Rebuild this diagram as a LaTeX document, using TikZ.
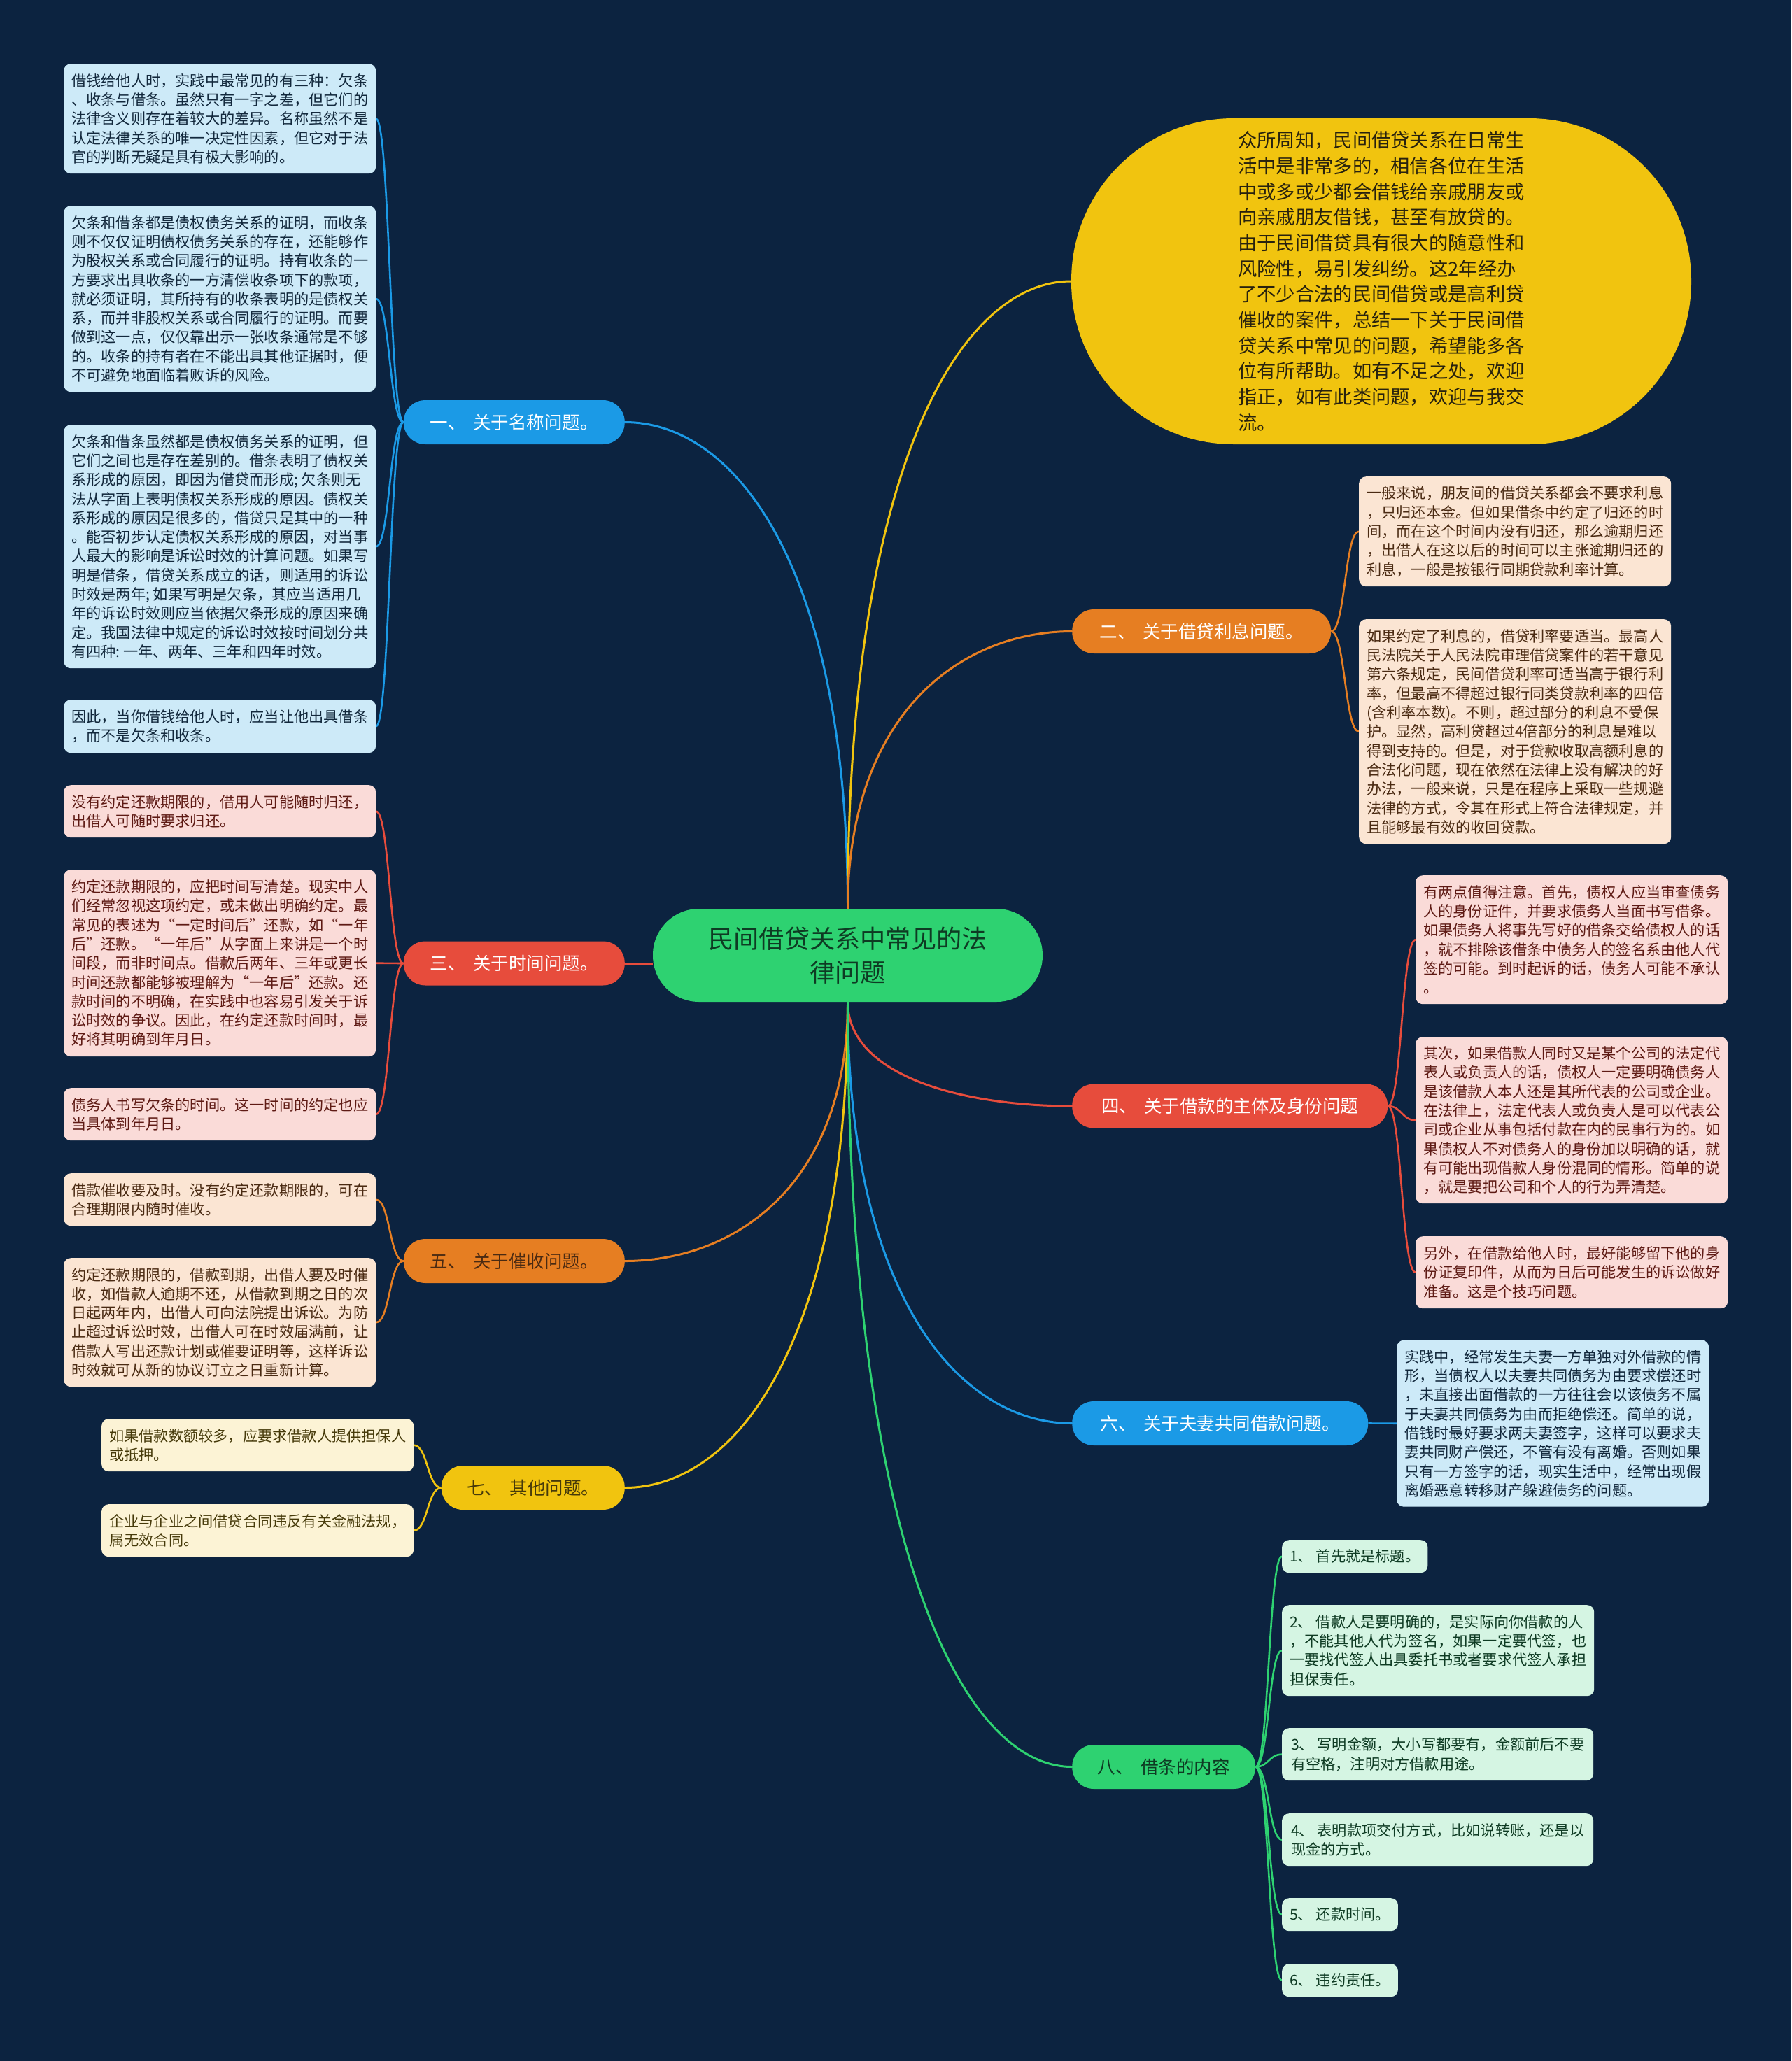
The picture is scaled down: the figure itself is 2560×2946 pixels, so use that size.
\documentclass[tikz,border=0pt]{standalone}
\usepackage{fontspec}
\setmainfont{Noto Sans CJK SC}
\usetikzlibrary{calc}
\definecolor{bgc}{RGB}{12,35,64}
\definecolor{cblue}{RGB}{27,154,230}
\definecolor{corange}{RGB}{230,126,34}
\definecolor{cred}{RGB}{231,76,60}
\definecolor{cyellow}{RGB}{241,196,15}
\definecolor{cgreen}{RGB}{46,210,113}
\definecolor{lblue}{RGB}{205,234,248}
\definecolor{lpink}{RGB}{250,219,216}
\definecolor{lorange}{RGB}{251,229,211}
\definecolor{lyellow}{RGB}{252,243,213}
\definecolor{lgreen}{RGB}{213,245,227}
\definecolor{tblue}{RGB}{18,40,60}
\definecolor{tpink}{RGB}{94,26,20}
\definecolor{torange}{RGB}{74,42,18}
\definecolor{tyellow}{RGB}{70,58,10}
\definecolor{tgreen}{RGB}{14,59,35}
\definecolor{tdark}{RGB}{40,34,14}
\pgfdeclarelayer{links}
\pgfsetlayers{links,main}
\newcommand\rootlink[3]{\draw[#1] let \p1=(#2), \p2=(#3) in (\p1) .. controls (\x1,{\y1+0.7*(\y2-\y1)}) and ({0.5*(\x1+\x2)},\y2) .. (\p2);}
\newcommand\kidlink[3]{\draw[#1] let \p1=(#2), \p2=(#3) in (\p1) .. controls ({0.5*(\x1+\x2)},\y1) and ({0.5*(\x1+\x2)},\y2) .. (\p2);}
\tikzset{
  box/.style={rounded corners=10pt, inner xsep=11pt, inner ysep=6pt, align=left, anchor=north west, font=\fontsize{21.2}{27.3}\selectfont},
  bluebox/.style={box, fill=lblue, text=tblue},
  pinkbox/.style={box, fill=lpink, text=tpink},
  orbox/.style={box, fill=lorange, text=torange},
  yelbox/.style={box, fill=lyellow, text=tyellow},
  grbox/.style={box, fill=lgreen, text=tgreen},
  branch/.style={rounded corners=31pt, minimum height=63pt, inner xsep=20pt, inner ysep=4pt, font=\fontsize{25.5}{30}\selectfont},
  rootline/.style={line width=3pt},
  kidline/.style={line width=2.6pt},
}
\begin{document}
\begin{tikzpicture}[x=1pt,y=-1pt]
\useasboundingbox (0,0) rectangle (2560,2946);
\begin{pgfonlayer}{links}
\fill[bgc] (0,0) rectangle (2560,2946);
\end{pgfonlayer}

% center
\node[fill=cgreen, text=tgreen, rounded corners=66pt, minimum width=557pt, minimum height=133pt, align=center, font=\fontsize{36.2}{48}\selectfont] (c) at (1211.5,1365.5) {民间借贷关系中常见的法\\律问题};

% intro ellipse
\node[fill=cyellow, text=tdark, rounded corners=232pt, minimum width=886pt, minimum height=466pt, align=left, font=\fontsize{27.3}{36.7}\selectfont] (e) at (1974,402) {众所周知，民间借贷关系在日常生\\活中是非常多的，相信各位在生活\\中或多或少都会借钱给亲戚朋友或\\向亲戚朋友借钱，甚至有放贷的。\\由于民间借贷具有很大的随意性和\\风险性，易引发纠纷。这2年经办\\了不少合法的民间借贷或是高利贷\\催收的案件，总结一下关于民间借\\贷关系中常见的问题，希望能多各\\位有所帮助。如有不足之处，欢迎\\指正，如有此类问题，欢迎与我交\\流。};

% branches
\node[branch, fill=cblue, text=white, anchor=east, minimum width=316pt] (b1) at (893,603.5) {一、\hspace{0.4em}关于名称问题。};
\node[branch, fill=corange, text=white, anchor=west, minimum width=370pt] (b2) at (1532,902.5) {二、\hspace{0.4em}关于借贷利息问题。};
\node[branch, fill=cred, text=white, anchor=east, minimum width=316pt] (b3) at (893,1377) {三、\hspace{0.4em}关于时间问题。};
\node[branch, fill=cred, text=white, anchor=west, minimum width=451pt] (b4) at (1532,1581) {四、\hspace{0.4em}关于借款的主体及身份问题};
\node[branch, fill=corange, text=torange, anchor=east, minimum width=316pt] (b5) at (893,1802.5) {五、\hspace{0.4em}关于催收问题。};
\node[branch, fill=cblue, text=white, anchor=west, minimum width=423pt] (b6) at (1532,2034.5) {六、\hspace{0.4em}关于夫妻共同借款问题。};
\node[branch, fill=cyellow, text=tyellow, anchor=east, minimum width=262pt] (b7) at (893,2126.5) {七、\hspace{0.4em}其他问题。};
\node[branch, fill=cgreen, text=tgreen, anchor=west, minimum width=262pt] (b8) at (1532,2525.5) {八、\hspace{0.4em}借条的内容};

% group 1
\node[bluebox, minimum width=446pt, minimum height=157pt] (k11) at (91,91) {借钱给他人时，实践中最常见的有三种：欠条\\、收条与借条。虽然只有一字之差，但它们的\\法律含义则存在着较大的差异。名称虽然不是\\认定法律关系的唯一决定性因素，但它对于法\\官的判断无疑是具有极大影响的。};
\node[bluebox, minimum width=446pt, minimum height=266pt] (k12) at (91,294) {欠条和借条都是债权债务关系的证明，而收条\\则不仅仅证明债权债务关系的存在，还能够作\\为股权关系或合同履行的证明。持有收条的一\\方要求出具收条的一方清偿收条项下的款项，\\就必须证明，其所持有的收条表明的是债权关\\系，而并非股权关系或合同履行的证明。而要\\做到这一点，仅仅靠出示一张收条通常是不够\\的。收条的持有者在不能出具其他证据时，便\\不可避免地面临着败诉的风险。};
\node[bluebox, minimum width=446pt, minimum height=348pt] (k13) at (91,607) {欠条和借条虽然都是债权债务关系的证明，但\\它们之间也是存在差别的。借条表明了债权关\\系形成的原因，即因为借贷而形成;~欠条则无\\法从字面上表明债权关系形成的原因。债权关\\系形成的原因是很多的，借贷只是其中的一种\\。能否初步认定债权关系形成的原因，对当事\\人最大的影响是诉讼时效的计算问题。如果写\\明是借条，借贷关系成立的话，则适用的诉讼\\时效是两年;~如果写明是欠条，其应当适用几\\年的诉讼时效则应当依据欠条形成的原因来确\\定。我国法律中规定的诉讼时效按时间划分共\\有四种:~一年、两年、三年和四年时效。};
\node[bluebox, minimum width=446pt, minimum height=76pt] (k14) at (91,1000) {因此，当你借钱给他人时，应当让他出具借条\\，而不是欠条和收条。};

% group 3
\node[pinkbox, minimum width=446pt, minimum height=75pt] (k31) at (91,1122) {没有约定还款期限的，借用人可能随时归还，\\出借人可随时要求归还。};
\node[pinkbox, minimum width=446pt, minimum height=267pt] (k32) at (91,1243) {约定还款期限的，应把时间写清楚。现实中人\\们经常忽视这项约定，或未做出明确约定。最\\常见的表述为“一定时间后”还款，如“一年\\后”还款。“一年后”从字面上来讲是一个时\\间段，而非时间点。借款后两年、三年或更长\\时间还款都能够被理解为“一年后”还款。还\\款时间的不明确，在实践中也容易引发关于诉\\讼时效的争议。因此，在约定还款时间时，最\\好将其明确到年月日。};
\node[pinkbox, minimum width=446pt, minimum height=75pt] (k33) at (91,1555) {债务人书写欠条的时间。这一时间的约定也应\\当具体到年月日。};

% group 5
\node[orbox, minimum width=446pt, minimum height=75pt] (k51) at (91,1677) {借款催收要及时。没有约定还款期限的，可在\\合理期限内随时催收。};
\node[orbox, minimum width=446pt, minimum height=184pt] (k52) at (91,1798) {约定还款期限的，借款到期，出借人要及时催\\收，如借款人逾期不还，从借款到期之日的次\\日起两年内，出借人可向法院提出诉讼。为防\\止超过诉讼时效，出借人可在时效届满前，让\\借款人写出还款计划或催要证明等，这样诉讼\\时效就可从新的协议订立之日重新计算。};

% group 7
\node[yelbox, minimum width=446pt, minimum height=75pt] (k71) at (145,2028) {如果借款数额较多，应要求借款人提供担保人\\或抵押。};
\node[yelbox, minimum width=446pt, minimum height=75pt] (k72) at (145,2150) {企业与企业之间借贷合同违反有关金融法规，\\属无效合同。};

% group 2
\node[orbox, minimum width=445pt, minimum height=157pt] (k21) at (1942,681) {一般来说，朋友间的借贷关系都会不要求利息\\，只归还本金。但如果借条中约定了归还的时\\间，而在这个时间内没有归还，那么逾期归还\\，出借人在这以后的时间可以主张逾期归还的\\利息，一般是按银行同期贷款利率计算。};
\node[orbox, minimum width=445pt, minimum height=321pt] (k22) at (1942,885) {如果约定了利息的，借贷利率要适当。最高人\\民法院关于人民法院审理借贷案件的若干意见\\第六条规定，民间借贷利率可适当高于银行利\\率，但最高不得超过银行同类贷款利率的四倍\\(含利率本数)。不则，超过部分的利息不受保\\护。显然，高利贷超过4倍部分的利息是难以\\得到支持的。但是，对于贷款收取高额利息的\\合法化问题，现在依然在法律上没有解决的好\\办法，一般来说，只是在程序上采取一些规避\\法律的方式，令其在形式上符合法律规定，并\\且能够最有效的收回贷款。};

% group 4
\node[pinkbox, minimum width=445pt, minimum height=184pt] (k41) at (2023,1251) {有两点值得注意。首先，债权人应当审查债务\\人的身份证件，并要求债务人当面书写借条。\\如果债务人将事先写好的借条交给债权人的话\\，就不排除该借条中债务人的签名系由他人代\\签的可能。到时起诉的话，债务人可能不承认\\。};
\node[pinkbox, minimum width=445pt, minimum height=238pt] (k42) at (2023,1482) {其次，如果借款人同时又是某个公司的法定代\\表人或负责人的话，债权人一定要明确债务人\\是该借款人本人还是其所代表的公司或企业。\\在法律上，法定代表人或负责人是可以代表公\\司或企业从事包括付款在内的民事行为的。如\\果债权人不对债务人的身份加以明确的话，就\\有可能出现借款人身份混同的情形。简单的说\\，就是要把公司和个人的行为弄清楚。};
\node[pinkbox, minimum width=445pt, minimum height=103pt] (k43) at (2023,1767) {另外，在借款给他人时，最好能够留下他的身\\份证复印件，从而为日后可能发生的诉讼做好\\准备。这是个技巧问题。};

% group 6
\node[bluebox, minimum width=446pt, minimum height=238pt] (k61) at (1996,1915.5) {实践中，经常发生夫妻一方单独对外借款的情\\形，当债权人以夫妻共同债务为由要求偿还时\\，未直接出面借款的一方往往会以该债务不属\\于夫妻共同债务为由而拒绝偿还。简单的说，\\借钱时最好要求两夫妻签字，这样可以要求夫\\妻共同财产偿还，不管有没有离婚。否则如果\\只有一方签字的话，现实生活中，经常出现假\\离婚恶意转移财产躲避债务的问题。};

% group 8
\node[grbox, minimum width=203pt, minimum height=47pt] (k81) at (1832,2201) {1、 首先就是标题。};
\node[grbox, minimum width=445pt, minimum height=130pt] (k82) at (1832,2294) {2、 借款人是要明确的，是实际向你借款的人\\，不能其他人代为签名，如果一定要代签，也\\一要找代签人出具委托书或者要求代签人承担\\担保责任。};
\node[grbox, minimum width=445pt, minimum height=75pt] (k83) at (1832,2470) {3、 写明金额，大小写都要有，金额前后不要\\有空格，注明对方借款用途。};
\node[grbox, minimum width=445pt, minimum height=75pt] (k84) at (1832,2592) {4、 表明款项交付方式，比如说转账，还是以\\现金的方式。};
\node[grbox, minimum width=161pt, minimum height=47pt] (k85) at (1832,2713) {5、 还款时间。};
\node[grbox, minimum width=161pt, minimum height=47pt] (k86) at (1832,2807) {6、 违约责任。};

\begin{pgfonlayer}{links}
% root links
\rootlink{rootline, cblue}{c.north}{b1.east}
\rootlink{rootline, cyellow}{c.north}{e.west}
\rootlink{rootline, corange}{c.north}{b2.west}
\draw[rootline, cred] (b3.east) -- (b3.east -| c.west);
\rootlink{rootline, cred}{c.south}{b4.west}
\rootlink{rootline, corange}{c.south}{b5.east}
\rootlink{rootline, cblue}{c.south}{b6.west}
\rootlink{rootline, cyellow}{c.south}{b7.east}
\rootlink{rootline, cgreen}{c.south}{b8.west}
% child links
\foreach \k in {k11,k12,k13,k14} {\kidlink{kidline, cblue}{b1.west}{\k.east}}
\foreach \k in {k31,k32,k33} {\kidlink{kidline, cred}{b3.west}{\k.east}}
\foreach \k in {k51,k52} {\kidlink{kidline, corange}{b5.west}{\k.east}}
\foreach \k in {k71,k72} {\kidlink{kidline, cyellow}{b7.west}{\k.east}}
\foreach \k in {k21,k22} {\kidlink{kidline, corange}{b2.east}{\k.west}}
\foreach \k in {k41,k42,k43} {\kidlink{kidline, cred}{b4.east}{\k.west}}
\kidlink{kidline, cblue}{b6.east}{k61.west}
\foreach \k in {k81,k82,k83,k84,k85,k86} {\kidlink{kidline, cgreen}{b8.east}{\k.west}}
\end{pgfonlayer}
\end{tikzpicture}
\end{document}
